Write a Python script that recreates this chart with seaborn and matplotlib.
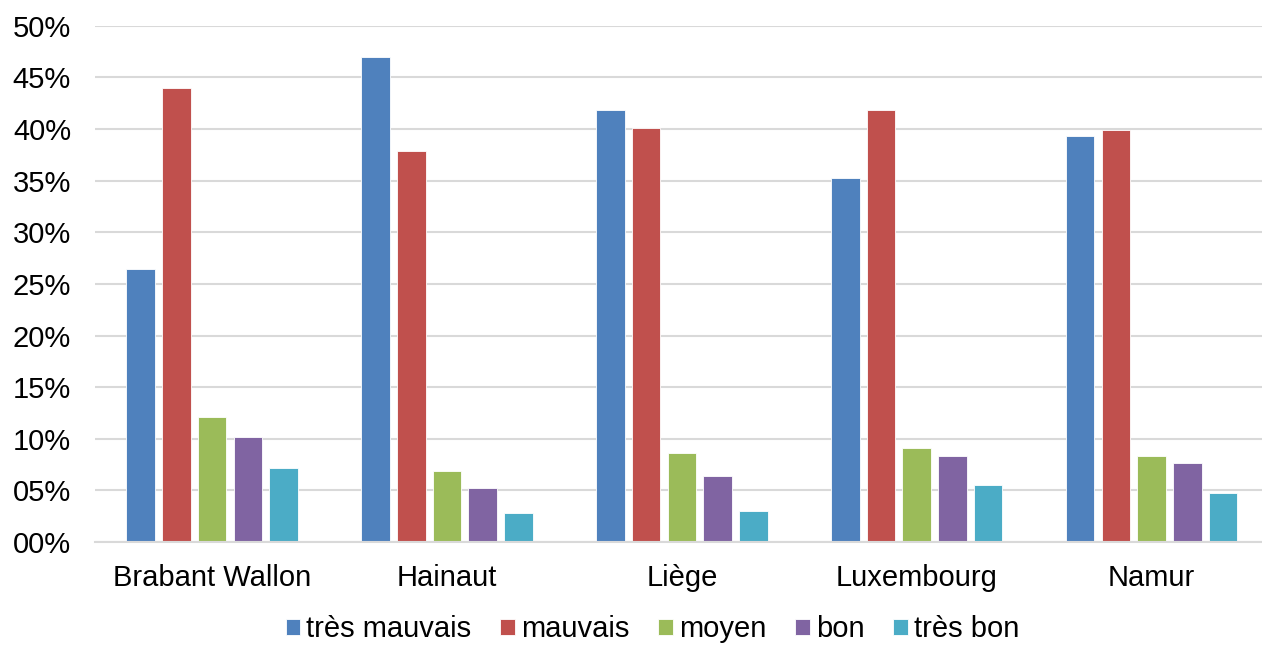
import pandas as pd
import matplotlib.pyplot as plt
import seaborn as sns
from matplotlib.ticker import FuncFormatter

# données
provinces = ['Brabant Wallon', 'Hainaut', 'Liège', 'Luxembourg', 'Namur']
niveaux = ['très mauvais', 'mauvais', 'moyen', 'bon', 'très bon']
tres_mauvais = [26.4, 47.0, 41.8, 35.3, 39.3]
mauvais = [44.0, 37.9, 40.1, 41.8, 39.9]
moyen = [12.1, 6.9, 8.6, 9.1, 8.3]
bon = [10.2, 5.2, 6.4, 8.3, 7.7]
tres_bon = [7.2, 2.8, 3.0, 5.5, 4.7]
couleurs = ['#4F81BD', '#C0504D', '#9BBB59', '#8064A2', '#4BACC6']

df = pd.DataFrame({'province': provinces, 'très mauvais': tres_mauvais, 'mauvais': mauvais,
                   'moyen': moyen, 'bon': bon, 'très bon': tres_bon})
long_df = df.melt(id_vars='province', var_name='niveau', value_name='pct')

sns.set_style('white')
plt.rcParams['font.family'] = ['Liberation Sans', 'DejaVu Sans']
plt.rcParams['text.color'] = 'black'

fig = plt.figure(figsize=(12.62, 6.46), dpi=100)
ax = fig.add_axes([0.075, 0.161, 0.925, 0.799])
sns.barplot(data=long_df, x='province', y='pct', hue='niveau', hue_order=niveaux,
            palette=couleurs, saturation=1, width=0.76, gap=0.2, ax=ax,
            edgecolor='white', linewidth=0.6)

ax.set_ylim(0, 50)
ax.set_xlim(-0.5, 4.47)
ax.set_yticks(range(0, 51, 5))
ax.yaxis.set_major_formatter(FuncFormatter(lambda v, p: f'{int(v):02d}%'))
ax.grid(axis='y', color='#D9D9D9', linewidth=1.5)
ax.set_axisbelow(True)
for s in ['top', 'right', 'left']:
    ax.spines[s].set_visible(False)
ax.spines['bottom'].set_color('#D9D9D9')
ax.spines['bottom'].set_linewidth(1.5)
ax.tick_params(axis='both', length=0, labelsize=21, colors='black')
ax.tick_params(axis='x', pad=16)
ax.tick_params(axis='y', pad=17)
ax.set_xlabel('')
ax.set_ylabel('')

ax.get_legend().remove()
handles, labels = ax.get_legend_handles_labels()
fig.legend(handles, labels, loc='center', bbox_to_anchor=(0.517, 0.026), ncol=5, frameon=False,
           fontsize=21, handlelength=0.5, handleheight=0.5, handletextpad=0.2,
           columnspacing=1.0, borderpad=0, labelcolor='black')

fig.savefig('out.png', dpi=100)
